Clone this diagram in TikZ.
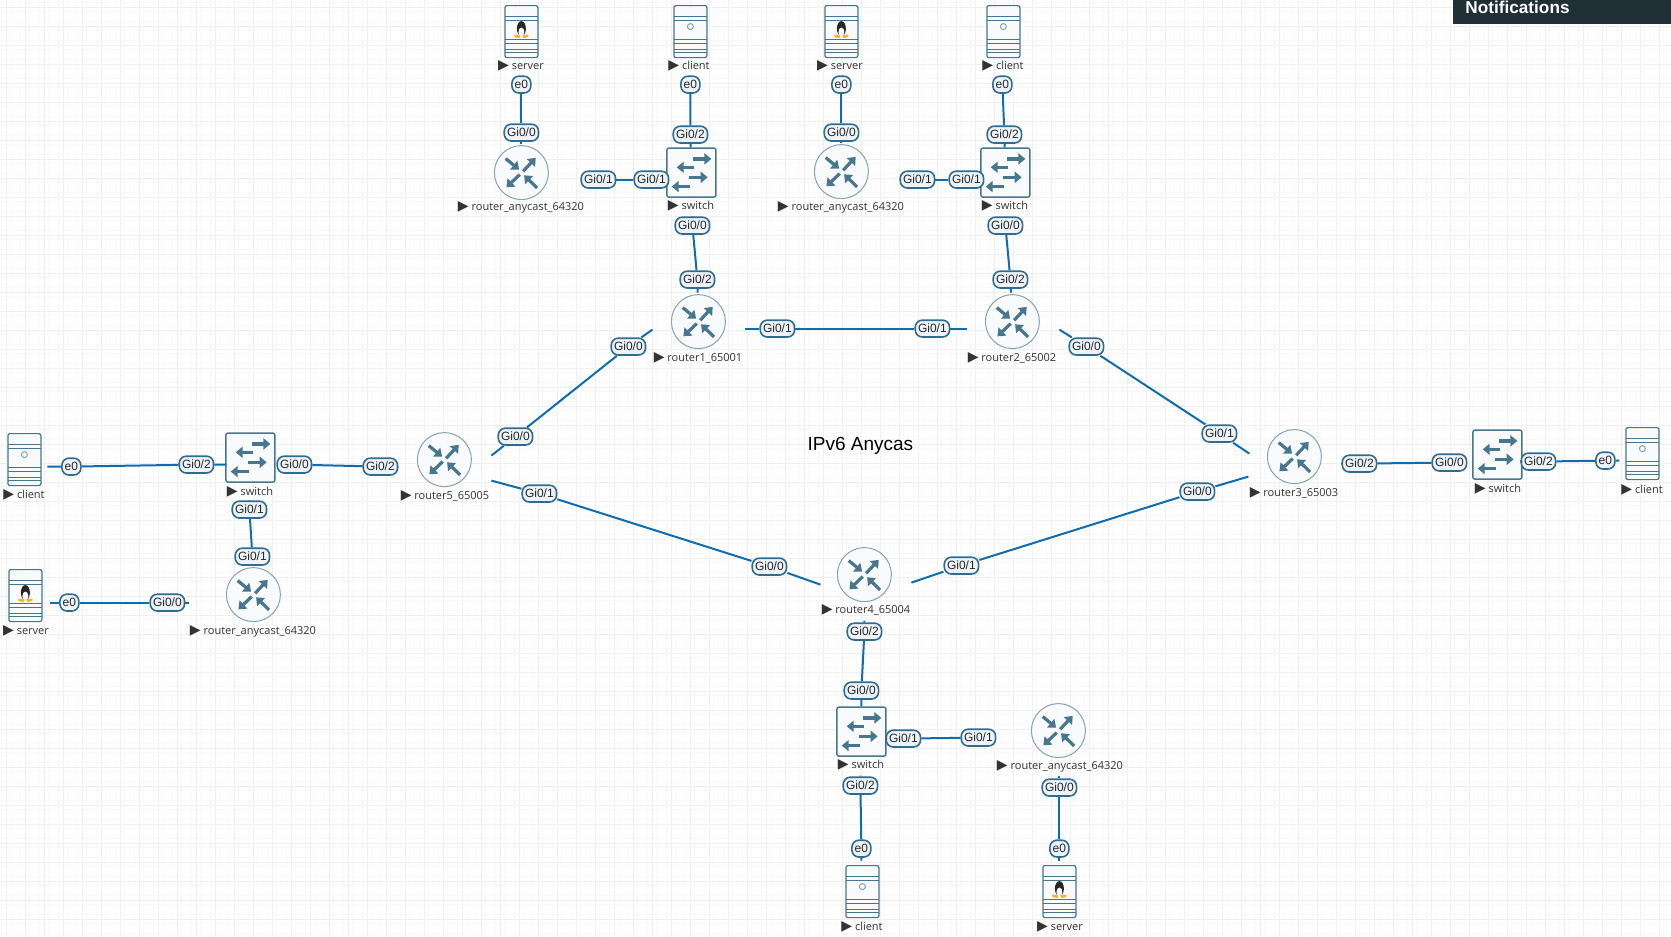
\documentclass[tikz,border=0pt]{standalone}
\usepackage{fontspec}
\setmainfont{Liberation Sans}
\newfontfamily\devfont{Open Sans}
\newfontfamily\symfont{DejaVu Sans}
\usetikzlibrary{arrows.meta}
\definecolor{icon}{HTML}{47778E}
\definecolor{iconrim}{HTML}{86A3B3}
\definecolor{iconfill}{HTML}{F8FAFB}
\definecolor{wire}{HTML}{0F6CB0}
\definecolor{portrim}{HTML}{2F6C94}
\definecolor{portfill}{HTML}{EDF3F7}
\definecolor{notif}{HTML}{202E35}
\definecolor{tuxfoot}{HTML}{F5B81E}
\newcommand{\devstack}{
	\draw[stackline,fill=iconfill,rounded corners=1pt] (-16.5,-26) rectangle (16.5,26);
	\foreach \y in {-15,-11.5,8,11.5,18,20.5}
		\draw[stackline] (-16.5,\y) -- (16.5,\y);
}
\newcommand{\playmark}{{\symfont\fontsize{7}{7}\selectfont ▶}}
\tikzset{
	x=.5pt,y=-.5pt,
	gridmajor/.style={draw=black!6,line width=.5pt},
	gridminor/.style={draw=black!2.5,line width=.5pt},
	stackline/.style={draw=icon,line width=.6pt},
	iconarrow/.style={icon,line width=1.6pt,-{Triangle[length=3.5pt,width=5.5pt]}},
	wireline/.style={draw=wire,line width=1pt},
	port/.style={draw=portrim,fill=portfill,line width=.8pt,rounded corners=3.5pt,text=black!85,font=\fontsize{6}{7}\selectfont,inner xsep=1.4pt,inner ysep=0pt,minimum height=8.4pt},
	devlabel/.style={text=black!80,font=\devfont\fontsize{5.5}{7}\selectfont,inner sep=1pt,xshift=-.7pt,yshift=-.3pt},
	routerbox/.style={circle,draw=iconrim,fill=iconfill,line width=.5pt,minimum size=27pt,inner sep=0pt,outer sep=1pt,path picture={
		\begin{scope}[shift={(path picture bounding box.center)}]
			\draw[iconarrow] (-15.7,-14) -- (-2.3,-3);
			\draw[iconarrow] (1.7,-1.3) -- (14.3,-14.7);
			\draw[iconarrow] (-1.7,2) -- (-15,14.7);
			\draw[iconarrow] (15.7,15.3) -- (2.7,2.7);
		\end{scope}}},
	switchbox/.style={rectangle,draw=icon,fill=iconfill,line width=.7pt,rounded corners=1pt,minimum size=24.5pt,inner sep=0pt,path picture={
		\begin{scope}[shift={(path picture bounding box.center)}]
			\draw[iconarrow] (2,-13.7) -- (20,-13.7);
			\draw[iconarrow] (3,-5.3) -- (-14.7,-5.3);
			\draw[iconarrow] (-2,4.7) -- (16.3,4.7);
			\draw[iconarrow] (-1.3,14) -- (-19.7,14);
		\end{scope}}},
	clientbox/.style={rectangle,minimum width=17.5pt,minimum height=27pt,inner sep=0pt,path picture={
		\begin{scope}[shift={(path picture bounding box.center)}]
			\devstack
			\draw[iconrim,line width=.5pt] (0,-5) circle (3);
		\end{scope}}},
	serverbox/.style={rectangle,minimum width=17.5pt,minimum height=27pt,inner sep=0pt,path picture={
		\begin{scope}[shift={(path picture bounding box.center)}]
			\devstack
			\fill[black!85] (0,-3) ellipse (4.5 and 7.5);
			\fill[white] (0,.5) ellipse (3 and 4.5);
			\fill[tuxfoot] (-7,3) -- (-1,3.5) -- (-2,6.5) -- (-7,5.5) -- cycle;
			\fill[tuxfoot] (7,3) -- (1,3.5) -- (2,6.5) -- (7,5.5) -- cycle;
		\end{scope}}},
}
\begin{document}
\begin{tikzpicture}
	\useasboundingbox (0,0) rectangle (1671,937);
	\fill[white] (0,0) rectangle (1671,937);
	\foreach \i in {0,...,176}
		\draw[gridminor] (1.25+9.5*\i,0) -- (1.25+9.5*\i,937);
	\foreach \i in {0,...,98}
		\draw[gridminor] (0,2.25+9.5*\i) -- (1671,2.25+9.5*\i);
	\foreach \i in {0,...,88}
		\draw[gridmajor] (6+19*\i,0) -- (6+19*\i,937);
	\foreach \i in {0,...,49}
		\draw[gridmajor] (0,7+19*\i) -- (1671,7+19*\i);

	\begin{scope}[shift={(.4,.6)}]
	\node[routerbox] (r1) at (698,321) {};
	\node[routerbox] (r2) at (1012,321) {};
	\node[routerbox] (r3) at (1294,456) {};
	\node[routerbox] (r4) at (864,574) {};
	\node[routerbox] (r5) at (444,459) {};
	\node[routerbox] (anyA) at (521,172) {};
	\node[routerbox] (anyB) at (841,171) {};
	\node[routerbox] (anyC) at (253,594) {};
	\node[routerbox] (anyD) at (1058,730) {};
	\node[switchbox] (swA) at (691,172) {};
	\node[switchbox] (swB) at (1005,172) {};
	\node[switchbox] (swC) at (250,457) {};
	\node[switchbox] (swD) at (1497,454) {};
	\node[switchbox] (swE) at (861,731) {};
	\node[serverbox] (srvA) at (521,31) {};
	\node[serverbox] (srvB) at (841,31) {};
	\node[serverbox] (srvC) at (25,595) {};
	\node[serverbox] (srvD) at (1059,891) {};
	\node[clientbox] (cliA) at (690,31) {};
	\node[clientbox] (cliB) at (1003,31) {};
	\node[clientbox] (cliC) at (24,459) {};
	\node[clientbox] (cliD) at (1642,453) {};
	\node[clientbox] (cliE) at (862,891) {};

	\node[devlabel] (r1t) at (699,357) {\playmark{} router1\_65001};
	\node[devlabel] (r2t) at (1013,357) {\playmark{} router2\_65002};
	\node[devlabel] (r3t) at (1295,492) {\playmark{} router3\_65003};
	\node[devlabel] (r4t) at (867,609) {\playmark{} router4\_65004};
	\node[devlabel] (r5t) at (446,495) {\playmark{} router5\_65005};
	\node[devlabel] (anyAt) at (522,206) {\playmark{} router\_anycast\_64320};
	\node[devlabel] (anyBt) at (842,206) {\playmark{} router\_anycast\_64320};
	\node[devlabel] (anyCt) at (254,630) {\playmark{} router\_anycast\_64320};
	\node[devlabel] (anyDt) at (1061,765) {\playmark{} router\_anycast\_64320};
	\node[devlabel] (swAt) at (692,205) {\playmark{} switch};
	\node[devlabel] (swBt) at (1006,205) {\playmark{} switch};
	\node[devlabel] (swCt) at (251,491) {\playmark{} switch};
	\node[devlabel] (swDt) at (1499,488) {\playmark{} switch};
	\node[devlabel] (swEt) at (862,764) {\playmark{} switch};
	\node[devlabel] (srvAt) at (522,65) {\playmark{} server};
	\node[devlabel] (srvBt) at (841,65) {\playmark{} server};
	\node[devlabel] (srvCt) at (27,630) {\playmark{} server};
	\node[devlabel] (srvDt) at (1061,926) {\playmark{} server};
	\node[devlabel] (cliAt) at (690,65) {\playmark{} client};
	\node[devlabel] (cliBt) at (1004,65) {\playmark{} client};
	\node[devlabel] (cliCt) at (25,494) {\playmark{} client};
	\node[devlabel] (cliDt) at (1643,489) {\playmark{} client};
	\node[devlabel] (cliEt) at (863,926) {\playmark{} client};

	\node[port] (a1) at (521,84) {e0};
	\node[port] (a2) at (521,132) {Gi0/0};
	\node[port] (b1) at (690,84) {e0};
	\node[port] (b2) at (690,134) {Gi0/2};
	\node[port] (b3) at (598,179) {Gi0/1};
	\node[port] (b4) at (651,179) {Gi0/1};
	\node[port] (b5) at (692,225) {Gi0/0};
	\node[port] (b6) at (697,279) {Gi0/2};
	\node[port] (c1) at (841,84) {e0};
	\node[port] (c2) at (841,132) {Gi0/0};
	\node[port] (d1) at (1002,84) {e0};
	\node[port] (d2) at (1004,134) {Gi0/2};
	\node[port] (d3) at (917,179) {Gi0/1};
	\node[port] (d4) at (966,179) {Gi0/1};
	\node[port] (d5) at (1005,225) {Gi0/0};
	\node[port] (d6) at (1010,279) {Gi0/2};
	\node[port] (e1) at (777,328) {Gi0/1};
	\node[port] (e2) at (932,328) {Gi0/1};
	\node[port] (f1) at (628,346) {Gi0/0};
	\node[port] (f2) at (515,436) {Gi0/0};
	\node[port] (g1) at (1086,346) {Gi0/0};
	\node[port] (g2) at (1219,433) {Gi0/1};
	\node[port] (h1) at (539,493) {Gi0/1};
	\node[port] (h2) at (769,566) {Gi0/0};
	\node[port] (i1) at (961,565) {Gi0/1};
	\node[port] (i2) at (1197,491) {Gi0/0};
	\node[port] (j1) at (1359,463) {Gi0/2};
	\node[port] (j2) at (1449,462) {Gi0/0};
	\node[port] (j3) at (1538,461) {Gi0/2};
	\node[port] (j4) at (1605,460) {e0};
	\node[port] (k1) at (71,466) {e0};
	\node[port] (k2) at (196,464) {Gi0/2};
	\node[port] (k3) at (294,464) {Gi0/0};
	\node[port] (k4) at (380,466) {Gi0/2};
	\node[port] (k5) at (249,509) {Gi0/1};
	\node[port] (k6) at (252,556) {Gi0/1};
	\node[port] (l1) at (69,602) {e0};
	\node[port] (l2) at (167,602) {Gi0/0};
	\node[port] (m1) at (864,631) {Gi0/2};
	\node[port] (m2) at (861,690) {Gi0/0};
	\node[port] (m3) at (903,738) {Gi0/1};
	\node[port] (m4) at (978,737) {Gi0/1};
	\node[port] (m5) at (860,785) {Gi0/2};
	\node[port] (m6) at (861,848) {e0};
	\node[port] (n1) at (1059,787) {Gi0/0};
	\node[port] (n2) at (1059,848) {e0};

	\coordinate (r1w) at (652,329);
	\coordinate (r1e) at (745,328);
	\coordinate (r2w) at (967,328);
	\coordinate (r2e) at (1059,329);
	\coordinate (r3a) at (1249,453);
	\coordinate (r3b) at (1248,476);
	\coordinate (r3c) at (1342,463);
	\coordinate (r4w) at (820,584);
	\coordinate (r4e) at (911,582);
	\coordinate (r4s) at (864,620);
	\coordinate (r5a) at (491,455);
	\coordinate (r5b) at (491,480);
	\coordinate (r5c) at (397,466);
	\coordinate (swAs) at (692,216);
	\coordinate (swBs) at (1005,216);
	\coordinate (swCs) at (249,500);
	\coordinate (swCw) at (226,464);
	\coordinate (swDe) at (1522,461);
	\coordinate (swEs) at (860,775);
	\coordinate (cliCe) at (47,466);
	\coordinate (cliDw) at (1619,460);
	\coordinate (cliEn) at (861,860);
	\coordinate (srvCe) at (50,602);
	\coordinate (srvDn) at (1059,860);
	\coordinate (anyCw) at (189,602);
	\coordinate (anyDs) at (1059,775);

	\draw[wireline] (a1) -- (a2) -- (anyA);
	\draw[wireline] (b1) -- (b2) -- (swA);
	\draw[wireline] (b3) -- (b4);
	\draw[wireline] (swAs) -- (b5) -- (b6) -- (r1);
	\draw[wireline] (c1) -- (c2) -- (anyB);
	\draw[wireline] (d1) -- (d2) -- (swB);
	\draw[wireline] (d3) -- (d4);
	\draw[wireline] (swBs) -- (d5) -- (d6) -- (r2);
	\draw[wireline] (r1e) -- (e1) -- (e2) -- (r2w);
	\draw[wireline] (r1w) -- (f1) -- (f2) -- (r5a);
	\draw[wireline] (r2e) -- (g1) -- (g2) -- (r3a);
	\draw[wireline] (r5b) -- (h1) -- (h2) -- (r4w);
	\draw[wireline] (r4e) -- (i1) -- (i2) -- (r3b);
	\draw[wireline] (r3c) -- (j1) -- (j2);
	\draw[wireline] (swDe) -- (j3) -- (j4) -- (cliDw);
	\draw[wireline] (cliCe) -- (k1) -- (k2) -- (swCw);
	\draw[wireline] (k3) -- (k4) -- (r5c);
	\draw[wireline] (swCs) -- (k5) -- (k6) -- (anyC);
	\draw[wireline] (srvCe) -- (l1) -- (l2) -- (anyCw);
	\draw[wireline] (r4s) -- (m1) -- (m2) -- (swE);
	\draw[wireline] (m3) -- (m4);
	\draw[wireline] (swEs) -- (m5) -- (m6) -- (cliEn);
	\draw[wireline] (anyDs) -- (n1) -- (n2) -- (srvDn);

	\node[font=\fontsize{9.5}{11}\selectfont,text=black] (title) at (860,445) {IPv6 Anycas};
	\end{scope}
	\fill[notif] (1453,0) rectangle (1671,24);
	\node[font=\bfseries\fontsize{8.6}{10}\selectfont,text=white,anchor=west,inner sep=0pt] (notes) at (1465,7) {Notifications};
\end{tikzpicture}
\end{document}
